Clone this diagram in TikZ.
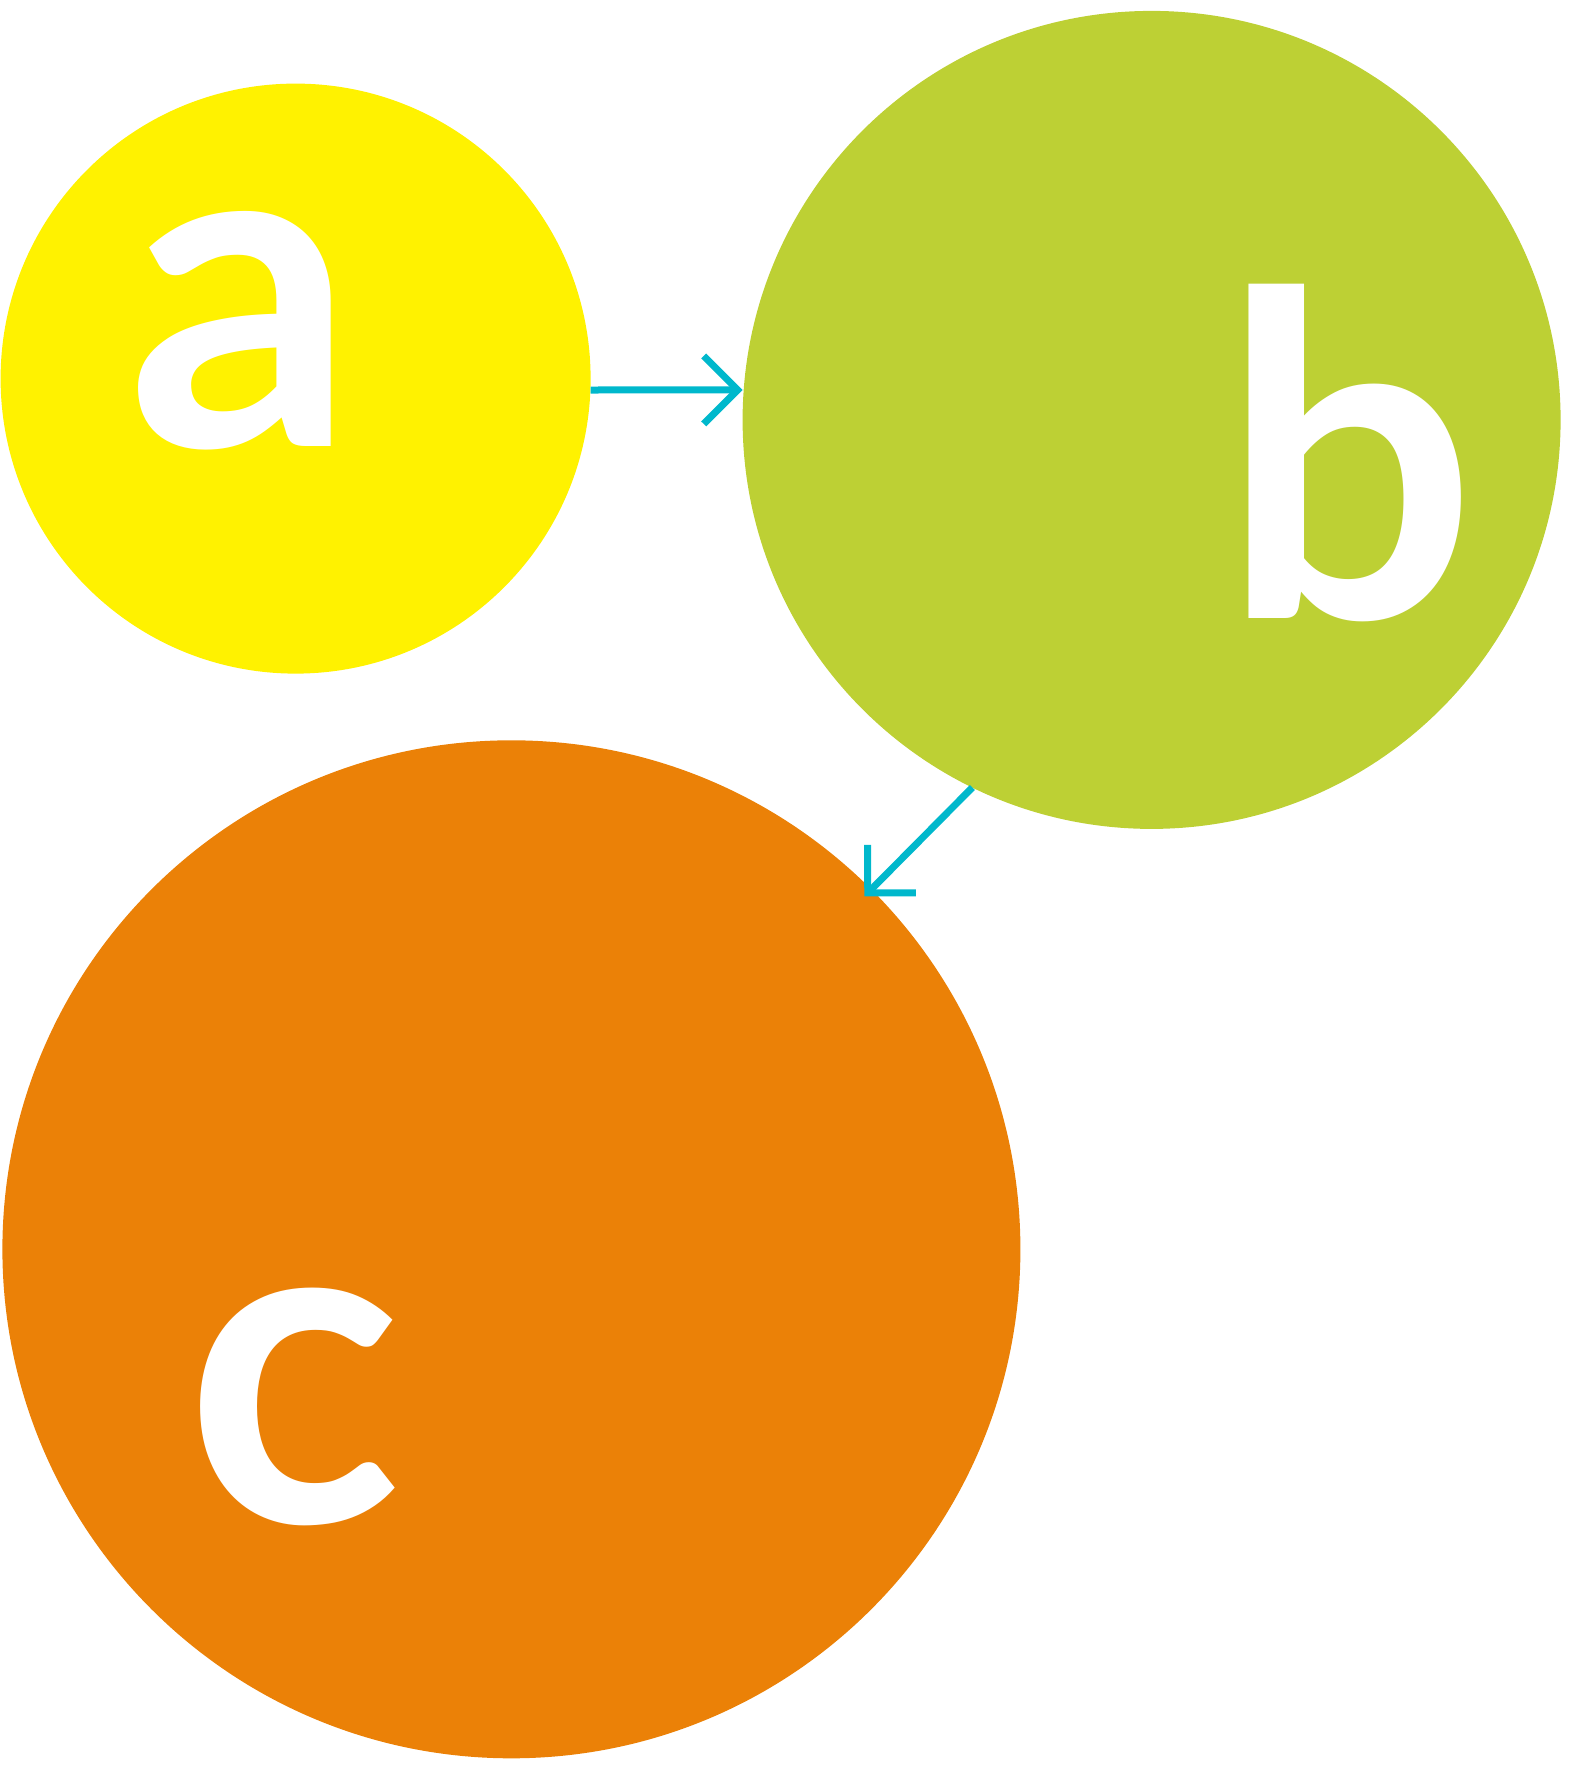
\documentclass[tikz,border=0pt]{standalone}
\usepackage{fontspec}
\setmainfont{Lato}
\usetikzlibrary{arrows.meta,calc}
\definecolor{cyel}{HTML}{FFF200}
\definecolor{cgrn}{HTML}{BDD034}
\definecolor{corg}{HTML}{EB8107}
\definecolor{ccyan}{HTML}{00B8CC}
\begin{document}
\begin{tikzpicture}[x=0.5pt,y=-0.5pt,
 disc/.style={circle,inner sep=0pt,outer sep=0pt,minimum size=#1},
 lbl/.style={text=white,inner sep=0pt,font=\fontsize{225pt}{225pt}\selectfont\bfseries},
 arr/.style={draw=ccyan,line width=3.5pt,-{Straight Barb[length=17pt,width=34pt]}}]
\useasboundingbox (0,0) rectangle (1572,1772);
\node[disc=295pt,fill=cyel] (a) at (295.6,378.6) {};
\node[disc=409pt,fill=cgrn] (b) at (1151.6,419.9) {};
\node[disc=509pt,fill=corg] (c) at (511.4,1249.3) {};
\node[lbl] (la) at (242,330.5) {a};
\node[lbl] (lb) at (1349.4,452.6) {b};
\node[lbl] (lc) at (293.9,1406.8) {c};
\draw[arr] ([yshift=-5.7pt]a.east) -- ([yshift=15pt]b.west);
\draw[arr,shorten >=-5pt] (b.244) -- (c.45);
\end{tikzpicture}
\end{document}
